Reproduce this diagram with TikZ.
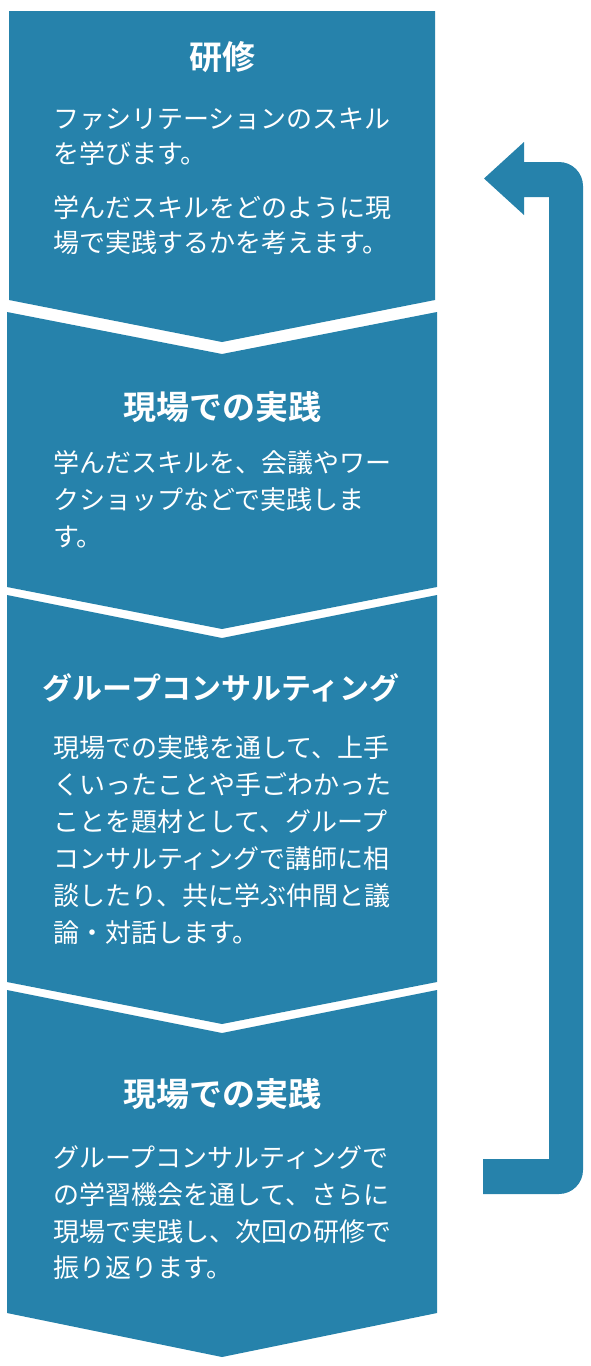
\documentclass[tikz,border=0pt]{standalone}
\usepackage{fontspec}
\setmainfont{Noto Sans CJK JP}[BoldFont={Noto Sans CJK JP Bold}]
\definecolor{flow}{HTML}{2682AB}
\begin{document}
\begin{tikzpicture}[x=1pt,y=-1pt,
  stage/.style={fill=flow},
  body/.style={anchor=west, text=white, inner sep=0pt, font=\fontsize{26}{26}\selectfont, text height=22.9pt, text depth=3.1pt},
  title/.style={anchor=center, text=white, inner sep=0pt, font=\bfseries\fontsize{33}{33}\selectfont, text height=29pt, text depth=4pt},
  longtitle/.style={title, font=\bfseries\fontsize{30}{30}\selectfont, text height=26.4pt, text depth=3.6pt}]
\useasboundingbox (0,0) rectangle (590,1366);
% stages
\fill[stage] (9,11) -- (435,11) -- (435,300) -- (222,342) -- (9,300) -- cycle;
\fill[stage] (7,312) -- (222,354) -- (437,312) -- (437,587) -- (222,629) -- (7,587) -- cycle;
\fill[stage] (7,595) -- (222,638) -- (437,595) -- (437,982) -- (222,1024) -- (7,982) -- cycle;
\fill[stage] (7,990) -- (222,1033) -- (437,990) -- (437,1313) -- (222,1357) -- (7,1313) -- cycle;
% return arrow
\coordinate (aend) at (483,1176.5);
\coordinate (atip) at (484,178.5);
\fill[flow] (483,1159) -- (549,1159) -- (549,197) -- (524,197) -- (524,215) -- (atip) -- (524,142) -- (524,162) -- (559,162) arc[start angle=-90,end angle=0,radius=24] -- (583,1170) arc[start angle=0,end angle=90,radius=24] -- (483,1194) -- cycle;
% stage 1
\node[title] (t1) at (222,57) {研修};
\node[body] (b1a) at (53,119) {ファシリテーションのスキル};
\node[body] (b1b) at (53,154) {を学びます。};
\node[body] (b1c) at (53,208) {学んだスキルをどのように現};
\node[body] (b1d) at (53,243) {場で実践するかを考えます。};
% stage 2
\node[title] (t2) at (222,407) {現場での実践};
\node[body] (b2a) at (53,463) {学んだスキルを、会議やワー};
\node[body] (b2b) at (53,500) {クショップなどで実践しま};
\node[body] (b2c) at (53,537) {す。};
% stage 3
\node[longtitle] (t3) at (221,688) {グループコンサルティング};
\node[body] (b3a) at (53,748) {現場での実践を通して、上手};
\node[body] (b3b) at (53,785) {くいったことや手ごわかった};
\node[body] (b3c) at (53,822) {ことを題材として、グループ};
\node[body] (b3d) at (53,859) {コンサルティングで講師に相};
\node[body] (b3e) at (53,896) {談したり、共に学ぶ仲間と議};
\node[body] (b3f) at (53,933) {論・対話します。};
% stage 4
\node[title] (t4) at (222,1094) {現場での実践};
\node[body] (b4a) at (53,1158) {グループコンサルティングで};
\node[body] (b4b) at (53,1195) {の学習機会を通して、さらに};
\node[body] (b4c) at (53,1232) {現場で実践し、次回の研修で};
\node[body] (b4d) at (53,1268) {振り返ります。};
\end{tikzpicture}
\end{document}
